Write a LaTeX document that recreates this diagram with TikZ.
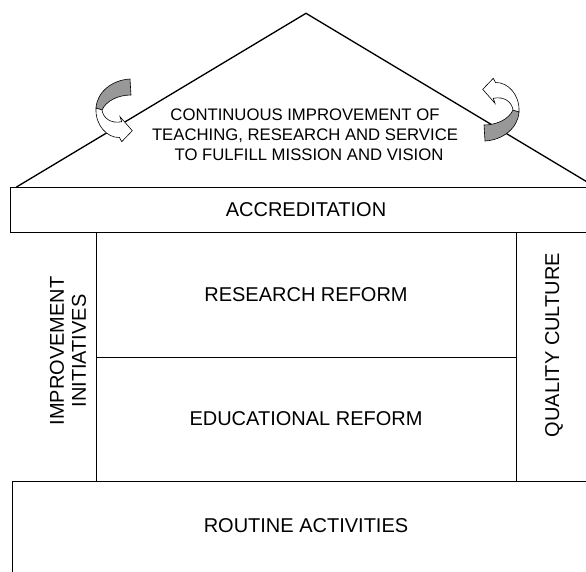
\documentclass[tikz,border=0pt]{standalone}
\usepackage{fontspec}
\setmainfont{Liberation Sans}
\begin{document}
\begin{tikzpicture}[x=1pt,y=-1pt,
    label/.style={font=\fontsize{20}{22}\selectfont,align=center},
    roof/.style={font=\fontsize{16.7}{20}\selectfont,align=center}]
      \useasboundingbox (0,0) rectangle (586,571);
      \clip (0,0) rectangle (586,571);
      % roof and frame
      \draw[line width=1.3pt] (16.5,187) -- (306,13.3) -- (595.5,187);
      \draw[line width=1pt] (10.7,187) rectangle (602,232);
      \draw[line width=1pt] (96,232) rectangle (516,481);
      \draw[line width=1pt] (96,357) -- (516,357);
      \draw[line width=1pt] (12.3,600) -- (12.3,481) -- (600,481);
      % turning arrows on the roof
      \foreach \a in {0,180} {
        \begin{scope}[rotate around={\a:(307.5,110)},line width=0.6pt]
          \draw[fill=gray!85!black!70] (130,79) .. controls (112,80) and (97,92) .. (96,108)
            -- (102,110) .. controls (106,101) and (118,95) .. (131,95) -- cycle;
          \draw[fill=white] (96,108) .. controls (95,125) and (107,138) .. (119.5,137.5)
            -- (121.7,141.7) -- (132.3,130.7) -- (120,116.7) -- (121.7,121.7)
            .. controls (111,124) and (103,118) .. (102,110) -- cycle;
        \end{scope}
      }
      % labels
      \node[roof] (goal) at (305,135) {CONTINUOUS IMPROVEMENT OF\\
        TEACHING, RESEARCH AND SERVICE\\
        \hspace*{8pt}TO FULFILL MISSION AND VISION};
      \node[label] (accr) at (306,209.5) {ACCREDITATION};
      \node[label] (research) at (306,294.5) {RESEARCH REFORM};
      \node[label] (education) at (306,419) {EDUCATIONAL REFORM};
      \node[label] (routine) at (306,526) {ROUTINE ACTIVITIES};
      \node[label,rotate=90] (initiatives) at (68,351) {IMPROVEMENT\\INITIATIVES};
      \node[label,rotate=90] (culture) at (554,345) {QUALITY CULTURE};
    \end{tikzpicture}
\end{document}
